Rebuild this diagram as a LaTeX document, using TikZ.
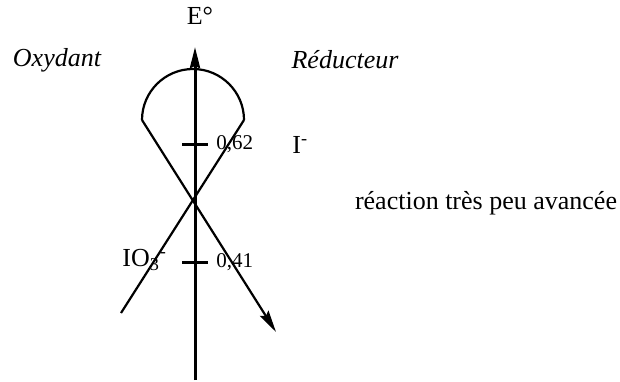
\documentclass[tikz,border=0pt]{standalone}
\usepackage{fontspec}
\setmainfont{Liberation Serif}
\usetikzlibrary{arrows.meta}
\begin{document}
\begin{tikzpicture}[x=0.5pt,y=-0.5pt,
  lbl/.style={inner sep=0pt,font=\fontsize{13}{15}\selectfont},
  ilbl/.style={inner sep=0pt,font=\fontsize{13}{15}\selectfont\itshape},
  nlbl/.style={inner sep=0pt,anchor=west,font=\fontsize{10.5}{12}\selectfont},
  thin line/.style={line width=1.1pt},
  axis line/.style={line width=1.5pt}]
\useasboundingbox (0,0) rectangle (620,381);
\coordinate (bot) at (195,380);
\coordinate (top) at (195,47);
\coordinate (L) at (142,120);
\coordinate (R) at (244,120);
\coordinate (A) at (276,332);
\coordinate (B) at (121,313);
\coordinate (t1a) at (182,144);
\coordinate (t1b) at (208,144);
\coordinate (t2a) at (182,262);
\coordinate (t2b) at (208,262);
% curve
\draw[thin line] (R) arc[start angle=0,end angle=-180,radius=51];
\draw[thin line,-{Stealth[length=11pt,width=5pt,inset=1.5pt]}] (L) -- (A);
\draw[thin line] (R) -- (B);
% axis
\draw[axis line,-{Stealth[length=10.5pt,width=5pt,inset=1pt]}] (bot) -- (top);
\draw[axis line] (t1a) -- (t1b);
\draw[axis line] (t2a) -- (t2b);
% labels
\node[lbl] (E) at (200,16) {E°};
\node[ilbl] (ox) at (57,60) {Oxydant};
\node[ilbl] (red) at (345,60) {Réducteur};
\node[nlbl] (v1) at (216,144) {0,62};
\node[nlbl] (v2) at (216,262) {0,41};
\node[lbl,anchor=west] (Im) at (292,145) {I\textsuperscript{-}};
\node[lbl,anchor=west] (IO) at (122,260) {IO\textsubscript{3}\textsuperscript{-}};
\node[lbl] (txt) at (486,203) {réaction très peu avancée};
\end{tikzpicture}
\end{document}
